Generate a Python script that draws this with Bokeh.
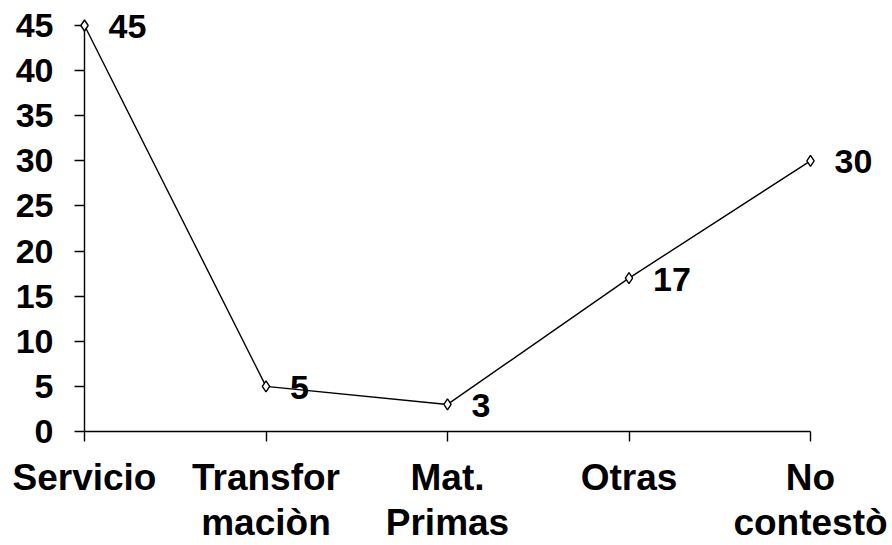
from bokeh.plotting import figure
from bokeh.models import ColumnDataSource, FixedTicker, Range1d
from bokeh.core.properties import value
from bokeh.embed import file_html
from bokeh.resources import INLINE

categories = ["Servicio", "Transfor\nmaciòn", "Mat.\nPrimas", "Otras", "No\ncontestò"]
values = [45, 5, 3, 17, 30]
y_ticks = [0, 5, 10, 15, 20, 25, 30, 35, 40, 45]

xs = list(range(len(categories)))
src = ColumnDataSource(dict(x=xs, y=values, label=[str(v) for v in values]))

W, H = 892, 545
p = figure(width=W, height=H, output_backend="svg", toolbar_location=None,
           x_range=Range1d(0, len(categories) - 1), y_range=Range1d(0, 45),
           min_border_left=84, min_border_right=82, min_border_top=25, min_border_bottom=114)
p.outline_line_color = None
p.xgrid.grid_line_color = None
p.ygrid.grid_line_color = None
p.background_fill_color = "white"
p.border_fill_color = "white"

FONT = "Liberation Sans, Arial, sans-serif"

xa = p.xaxis[0]
xa.ticker = FixedTicker(ticks=xs)
xa.major_label_overrides = {i: c for i, c in enumerate(categories)}
xa.minor_tick_line_color = None
xa.major_tick_in = 0
xa.major_tick_out = 10
xa.axis_line_width = 1.4
xa.major_tick_line_width = 1.4
xa.major_label_standoff = 15
xa.major_label_text_font = FONT
xa.major_label_text_font_style = "bold"
xa.major_label_text_font_size = "37px"
xa.major_label_text_color = "black"
xa.major_label_text_line_height = 1.1

ya = p.yaxis[0]
ya.ticker = FixedTicker(ticks=y_ticks)
ya.minor_tick_line_color = None
ya.major_tick_in = 0
ya.major_tick_out = 10
ya.axis_line_width = 1.4
ya.major_tick_line_width = 1.4
ya.major_label_standoff = 21
ya.major_label_text_font = FONT
ya.major_label_text_font_style = "bold"
ya.major_label_text_font_size = "34px"
ya.major_label_text_color = "black"

p.line("x", "y", source=src, line_color="black", line_width=1.4, level="overlay")
p.scatter("x", "y", source=src, marker="diamond", size=11, fill_color="white",
          line_color="black", line_width=1.4, level="overlay")
p.text("x", "y", text="label", source=src, x_offset=24, y_offset=1,
       text_align="left", text_baseline="middle", text_font=value(FONT),
       text_font_style="bold", text_font_size="34px", text_color="black",
       level="overlay")

open("out.html", "w").write(file_html(p, INLINE))
